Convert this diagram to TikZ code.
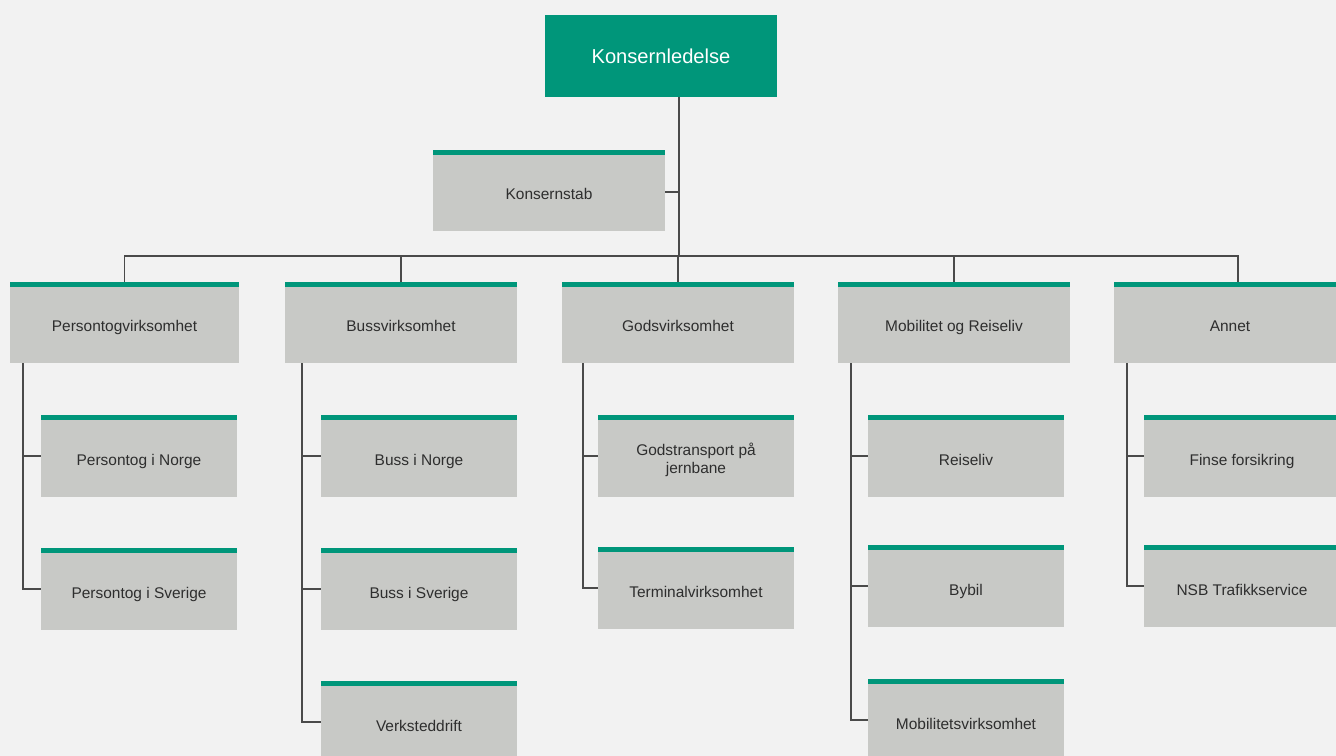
\documentclass[tikz,border=0pt]{standalone}
\usepackage{fontspec}
\setmainfont{Liberation Sans}
\definecolor{nsbgreen}{HTML}{00967A}
\definecolor{boxgray}{HTML}{C8C9C6}
\definecolor{bgcol}{HTML}{F2F2F2}
\definecolor{linegray}{HTML}{4A4A4A}
\definecolor{txtcol}{HTML}{2E2E2E}
\tikzset{
  unitbox/.style={fill=boxgray, inner sep=0pt, outer sep=0pt, text=txtcol,
    font=\fontsize{11.6}{13.2}\selectfont, text height=13.5pt, text depth=0pt, align=center},
  topbox/.style={fill=nsbgreen, inner sep=0pt, outer sep=0pt, text=white,
    font=\fontsize{15.1}{18}\selectfont, text height=10.8pt, text depth=0pt},
  conn/.style={draw=linegray, line width=0.9pt}
}
\newcommand\orgbox[7][]{%
  \node[unitbox, minimum width={(#5-#3)*0.75pt}, minimum height={(#6-#4)*0.75pt}, #1] (#2) at ({(#3+#5)/2},{(#4+#6)/2}) {#7};
  \fill[nsbgreen] (#2.north west) rectangle ([yshift=-3.75pt]#2.north east);}
\begin{document}
\begin{tikzpicture}[x=0.75pt,y=-0.75pt]
\useasboundingbox (0,0) rectangle (1336,756);
\clip (0,0) rectangle (1336,756);
\fill[bgcol] (0,0) rectangle (1336,756);

\node[topbox, minimum width=174pt, minimum height=61.5pt] (top) at (661,56) {Konsernledelse};

\orgbox{ks}{433}{150}{665}{231}{Konsernstab}

\orgbox{p1}{10}{282}{239}{363}{Persontogvirksomhet}
\orgbox{p2}{285}{282}{517}{363}{Bussvirksomhet}
\orgbox{p3}{562}{282}{794}{363}{Godsvirksomhet}
\orgbox{p4}{838}{282}{1070}{363}{Mobilitet og Reiseliv}
\orgbox{p5}{1114}{282}{1346}{363}{Annet}

\orgbox{c11}{41}{415}{237}{497}{Persontog i Norge}
\orgbox{c12}{41}{548}{237}{630}{Persontog i Sverige}
\orgbox{c21}{321}{415}{517}{497}{Buss i Norge}
\orgbox{c22}{321}{548}{517}{630}{Buss i Sverige}
\orgbox{c23}{321}{681}{517}{763}{Verksteddrift}
\orgbox[text height=25.5pt]{c31}{598}{415}{794}{497}{Godstransport på\\jernbane}
\orgbox{c32}{598}{547}{794}{629}{Terminalvirksomhet}
\orgbox{c41}{868}{415}{1064}{497}{Reiseliv}
\orgbox{c42}{868}{545}{1064}{627}{Bybil}
\orgbox{c43}{868}{679}{1064}{761}{Mobilitetsvirksomhet}
\orgbox{c51}{1144}{415}{1340}{497}{Finse forsikring}
\orgbox{c52}{1144}{545}{1340}{627}{NSB Trafikkservice}

% top level connectors
\coordinate (topout) at ([xshift=13.5pt]top.south);
\coordinate (hub) at (topout |- 0,256);
\draw[conn] (topout) -- (hub);
\coordinate (ksout) at ([yshift=-1.1pt]ks.east);
\draw[conn] (ksout) -- (ksout -| hub);
\coordinate (a5) at ([xshift=6pt]p5.north);
\draw[conn] (p1.north) |- (hub) -| (a5);
\draw[conn] (p2.north) -- (p2.north |- hub);
\draw[conn] (p3.north) -- (p3.north |- hub);
\draw[conn] (p4.north) -- (p4.north |- hub);

% spines
\coordinate (s1) at ([xshift=9.75pt]p1.south west);
\coordinate (s2) at ([xshift=12.75pt]p2.south west);
\coordinate (s3) at ([xshift=15.75pt]p3.south west);
\coordinate (s4) at ([xshift=9.75pt]p4.south west);
\coordinate (s5) at ([xshift=9.75pt]p5.south west);

\draw[conn] (s1) |- (c12.west);
\draw[conn] (s1 |- c11.west) -- (c11.west);
\draw[conn] (s2) |- (c23.west);
\draw[conn] (s2 |- c21.west) -- (c21.west);
\draw[conn] (s2 |- c22.west) -- (c22.west);
\draw[conn] (s3) |- (c32.west);
\draw[conn] (s3 |- c31.west) -- (c31.west);
\draw[conn] (s4) |- (c43.west);
\draw[conn] (s4 |- c41.west) -- (c41.west);
\draw[conn] (s4 |- c42.west) -- (c42.west);
\draw[conn] (s5) |- (c52.west);
\draw[conn] (s5 |- c51.west) -- (c51.west);
\end{tikzpicture}
\end{document}
